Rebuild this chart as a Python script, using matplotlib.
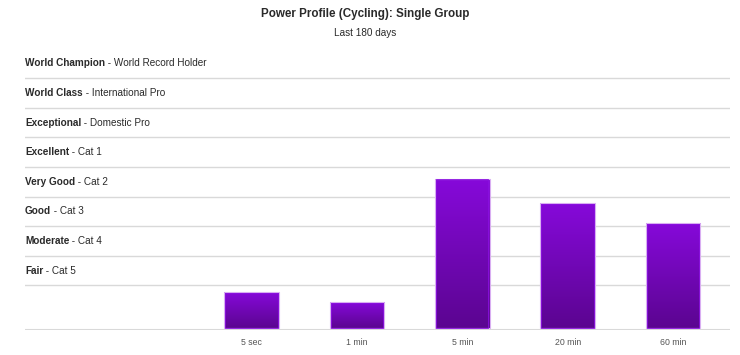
"""Power profile chart: best efforts per duration against rider categories."""

import matplotlib.pyplot as plt
import numpy as np
from matplotlib.colors import LinearSegmentedColormap

plt.rcParams["font.family"] = ["Liberation Sans", "DejaVu Sans"]

# durations and the rider's score for each (in level units)
durations = ["5 sec", "1 min", "5 min", "20 min", "60 min"]
scores = [1.20, 0.86, 5.03, 4.20, 3.53]

# category bands, lowest first; each band starts at its threshold
level_names = ["Fair", "Moderate", "Good", "Very Good",
               "Excellent", "Exceptional", "World Class", "World Champion"]
level_desc = ["Cat 5", "Cat 4", "Cat 3", "Cat 2",
              "Cat 1", "Domestic Pro", "International Pro", "World Record Holder"]
thresholds = [1.43, 2.43, 3.43, 4.43, 5.43, 6.43, 7.43, 8.43]

GRID = "#d9d9d9"
TEXT = "#2a2a2a"

fig = plt.figure(figsize=(7.4, 3.55), dpi=100)
ax = fig.add_axes([25 / 740, 24.7 / 355, 705 / 740, 282.3 / 355])

x = np.arange(len(durations))
width = 0.517
ax.set_xlim(-2.149, 4.54)
ax.set_ylim(-0.09, 9.45)

for t in thresholds:
    ax.axhline(t, color=GRID, lw=1, zorder=0)
ax.axhline(-0.09, color=GRID, lw=1.5, zorder=0)

# category labels sit in the band above each threshold line
for t, name, desc in zip(thresholds, level_names, level_desc):
    bold = ax.text(0, t + 0.5, name, transform=ax.get_yaxis_transform(),
                   fontsize=7.2, fontweight="bold", color=TEXT, va="center", ha="left")
    ax.annotate(f" - {desc}", xy=(1, 0.5), xycoords=bold, fontsize=7.2,
                color=TEXT, va="center", ha="left")

grad = LinearSegmentedColormap.from_list("bar", ["#5b0590", "#8609da"])
gradient = np.linspace(0, 1, 256).reshape(-1, 1)
bars = ax.bar(x, scores, width=width, color="none", edgecolor="#d9aef2",
              lw=0.8, zorder=3)
for bar in bars:
    x0, y0 = bar.get_x(), bar.get_y()
    w, h = bar.get_width(), bar.get_height()
    ax.imshow(gradient, cmap=grad, origin="lower", aspect="auto",
              extent=(x0, x0 + w, y0, y0 + h), zorder=2)
    ax.add_patch(plt.Rectangle((x0 + 0.01, y0), w - 0.02, h - 0.02,
                               fill=False, edgecolor="#8a10e0", lw=0.6, zorder=3))

for xi, lab in zip(x, durations):
    ax.text(xi, -0.5, lab, fontsize=6.3, color="#555555", ha="center", va="center")

ax.set_xticks([])
ax.set_yticks([])
for s in ax.spines.values():
    s.set_visible(False)

fig.text(0.4935, 1 - 14.5 / 355, "Power Profile (Cycling): Single Group",
         fontsize=8.4, fontweight="bold", color=TEXT, ha="center", va="center")
fig.text(0.493, 1 - 32.5 / 355, "Last 180 days", fontsize=7.2, color=TEXT,
         ha="center", va="center")

fig.savefig("out.png", dpi=100)
